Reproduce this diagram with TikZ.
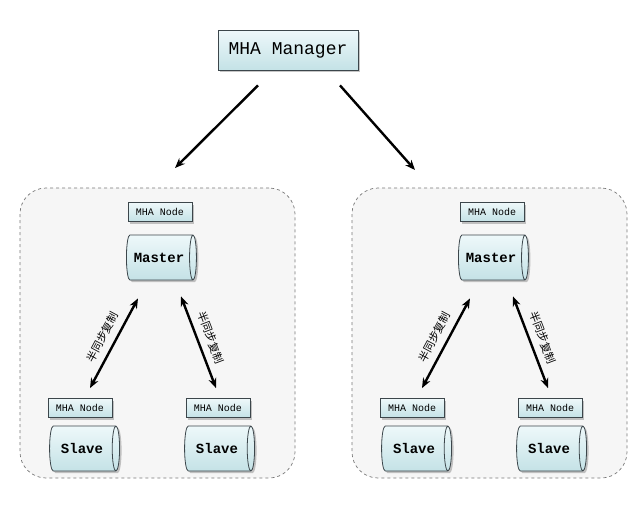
\documentclass[tikz,border=0pt]{standalone}
\usepackage{fontspec}
\setmonofont{Liberation Mono}
\newfontfamily\cjk{Noto Sans CJK SC}
\usetikzlibrary{shapes.geometric,shadows,arrows.meta}
\definecolor{boxfillA}{RGB}{238,248,250}
\definecolor{boxfillB}{RGB}{196,226,230}
\definecolor{boxline}{RGB}{60,70,75}
\definecolor{contfill}{RGB}{246,246,246}
\definecolor{contline}{RGB}{120,120,120}
\tikzset{
  shade/.style={top color=boxfillA, bottom color=boxfillB, draw=boxline, line width=0.8pt,
    drop shadow={shadow xshift=2pt, shadow yshift=-2pt, opacity=0.45}},
  mgrbox/.style={shade, minimum width=140pt, minimum height=40pt, font=\ttfamily\fontsize{18}{20}\selectfont},
  mhabox/.style={shade, minimum width=64pt, minimum height=19pt, inner sep=1pt, font=\ttfamily\fontsize{10}{11}\selectfont},
  dbcyl/.style={shade, cylinder, shape aspect=0.6, minimum width=45pt, minimum height=70pt, inner sep=1pt,
    font=\ttfamily\bfseries\fontsize{14}{15}\selectfont},
  container/.style={draw=contline, fill=contfill, dashed, line width=0.7pt, rounded corners=26pt,
    minimum width=275pt, minimum height=290pt},
  arr/.style={-{Stealth[length=10pt,width=8pt]}, line width=2.4pt, black},
  darr/.style={{Stealth[length=10pt,width=8pt]}-{Stealth[length=10pt,width=8pt]}, line width=2.4pt, black},
  lbl/.style={font=\cjk\fontsize{11}{12}\selectfont, sloped, above, inner sep=7pt}
}
\begin{document}
\begin{tikzpicture}[x=1pt,y=-1pt]
\useasboundingbox (0,0) rectangle (640,504);
\node[container] (lbox) at (157.5,333) {};
\node[container] (rbox) at (489.5,333) {};
\node[mgrbox] (mgr) at (288,50) {MHA Manager};
\coordinate (lt) at (175,168);
\coordinate (rt) at (415,170);
\draw[arr] ([xshift=-30pt,yshift=-15pt]mgr.south) -- (lt);
\draw[arr] ([xshift=52pt,yshift=-15pt]mgr.south) -- (rt);
\foreach \p/\dx in {l/0, r/332}{
  \node[mhabox] (\p mha) at (160+\dx,212) {MHA Node};
  \node[dbcyl] (\p master) at (159+\dx,257.5) {Master};
  \node[mhabox] (\p mhaA) at (80+\dx,408) {MHA Node};
  \node[dbcyl] (\p slaveA) at (82+\dx,448.5) {Slave};
  \node[mhabox] (\p mhaB) at (218+\dx,408) {MHA Node};
  \node[dbcyl] (\p slaveB) at (217+\dx,448.5) {Slave};
  \draw[darr] ([xshift=10pt,yshift=10pt]\p mhaA.north) -- node[lbl]{半同步复制} ([xshift=-21pt,yshift=-18pt]\p master.south);
  \draw[darr] ([xshift=22pt,yshift=-16pt]\p master.south) -- node[lbl]{半同步复制} ([xshift=-2pt,yshift=10pt]\p mhaB.north);
}
\end{tikzpicture}
\end{document}
